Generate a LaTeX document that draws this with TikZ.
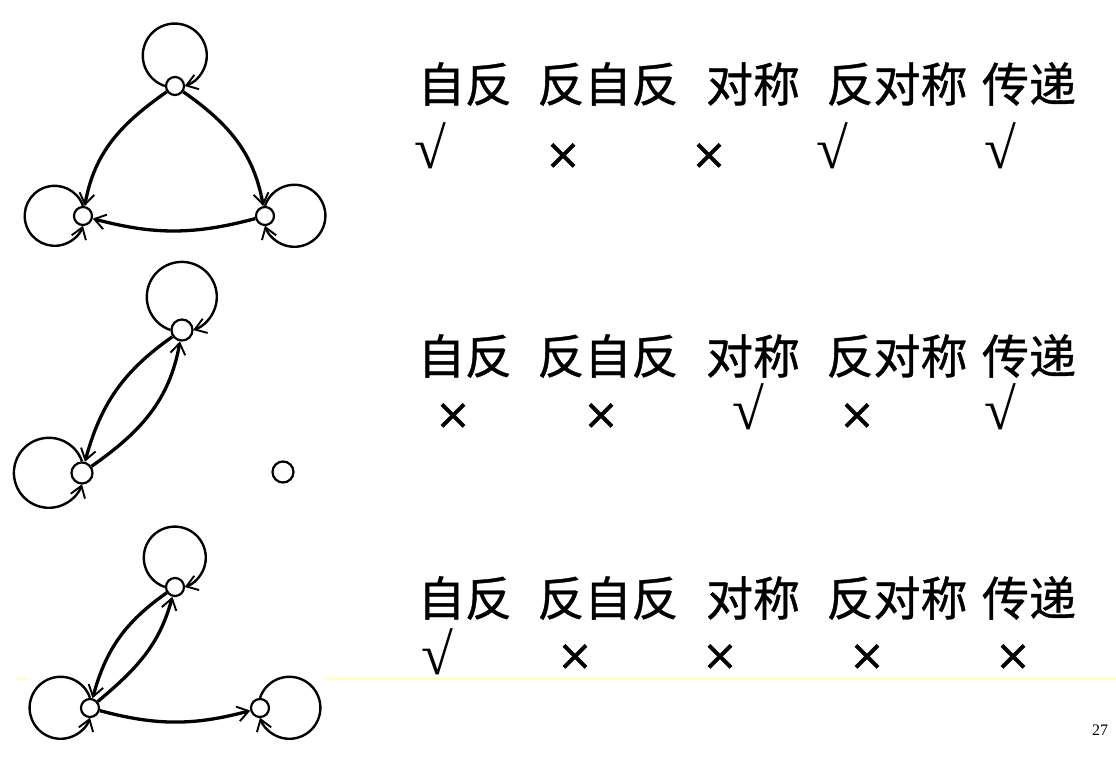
\documentclass[tikz,border=0pt]{standalone}
\usepackage{fontspec}
\setmainfont{Liberation Serif}
\newfontfamily\cjk[FakeBold=0.8]{Noto Sans CJK SC}
\newfontfamily\symb[FakeBold=0.8]{DejaVu Sans}
\usetikzlibrary{arrows.meta}
\begin{document}
\begin{tikzpicture}[x=1pt,y=1pt,
  vtx/.style={circle,draw,fill=white,line width=2.2pt,minimum size=18pt,inner sep=0pt},
  vtxb/.style={vtx,minimum size=21pt},
  edge/.style={line width=3.3pt,-{Straight Barb[length=11pt,width=15pt,line width=1.9pt]}},
  selfloop/.style={line width=2.4pt,-{Straight Barb[length=11pt,width=15pt,line width=1.9pt]}},
  head/.style={font=\cjk\fontsize{47}{50}\selectfont,inner sep=0pt},
  yes/.style={font=\fontsize{58}{60}\selectfont,inner sep=0pt},
  no/.style={font=\symb\fontsize{43}{46}\selectfont,inner sep=0pt},
]
\useasboundingbox (0,0) rectangle (1116,756);
\definecolor{paleyellow}{RGB}{255,255,204}
% rule line
\coordinate (ra) at (15,78); \coordinate (rb) at (26,78);
\coordinate (rc) at (325,78); \coordinate (rd) at (1116,78);
\draw[paleyellow,line width=3pt] (ra) -- (rb) (rc) -- (rd);

% ---------- graph 1 ----------
\node[vtx] (T1) at (175,670) {};
\node[vtx] (L1) at (83,540) {};
\node[vtx] (R1) at (265,540) {};
\draw[selfloop] (T1.west) arc[start angle=252,end angle=-72,radius=32];
\draw[selfloop] (L1.north) arc[start angle=19.3,end angle=340.7,radius=30];
\draw[selfloop] (R1.north) arc[start angle=161.4,end angle=-161.4,radius=31];
\draw[edge] (T1) to[out=215,in=80] (L1);
\draw[edge] (T1) to[out=-35,in=100] (R1);
\draw[edge] (R1) to[bend left=15] (L1);

% ---------- graph 2 ----------
\node[vtxb] (T2) at (182,426) {};
\node[vtxb] (B2) at (82,283) {};
\node[vtxb] (I2) at (283,284) {};
\draw[selfloop] (T2.west) arc[start angle=251,end angle=-71,radius=35];
\draw[selfloop] (B2.north) arc[start angle=19,end angle=341,radius=35];
\draw[edge] (T2) to[out=215,in=75] (B2);
\draw[edge] (B2) to[out=35,in=260] (T2);

% ---------- graph 3 ----------
\node[vtx] (T3) at (175,169) {};
\node[vtx] (L3) at (90,48) {};
\node[vtx] (R3) at (260,48) {};
\draw[selfloop] (T3.west) arc[start angle=251.4,end angle=-71.4,radius=31];
\draw[selfloop] (L3.north) arc[start angle=18.6,end angle=341.4,radius=31];
\draw[selfloop] (R3.north) arc[start angle=161.4,end angle=-161.4,radius=31];
\draw[edge] (T3) to[out=215,in=75] (L3);
\draw[edge] (L3) to[out=40,in=255] (T3);
\draw[edge] (L3) to[bend right=15] (R3);

% ---------- headings ----------
\foreach \r/\y in {1/672,2/400,3/158}{
  \node[head] (a\r) at (465,\y) {自反};
  \node[head] (b\r) at (608,\y) {反自反};
  \node[head] (c\r) at (753,\y) {对称};
  \node[head] (d\r) at (897,\y) {反对称};
  \node[head] (e\r) at (1029,\y) {传递};
}
% row 1 marks
\node[yes] (m11) at (430,610) {√};
\node[no]  (m12) at (563,600) {×};
\node[no]  (m13) at (709,600) {×};
\node[yes] (m14) at (832,610) {√};
\node[yes] (m15) at (1000,610) {√};
% row 2 marks
\node[no]  (m21) at (453,340) {×};
\node[no]  (m22) at (601,340) {×};
\node[yes] (m23) at (748,349) {√};
\node[no]  (m24) at (857,340) {×};
\node[yes] (m25) at (1000,349) {√};
% row 3 marks
\node[yes] (m31) at (437,104) {√};
\node[no]  (m32) at (575,99) {×};
\node[no]  (m33) at (720,99) {×};
\node[no]  (m34) at (867,99) {×};
\node[no]  (m35) at (1013,99) {×};

\node[font=\fontsize{16}{18}\selectfont,inner sep=0pt] (pg) at (1100,26) {27};
\end{tikzpicture}
\end{document}
